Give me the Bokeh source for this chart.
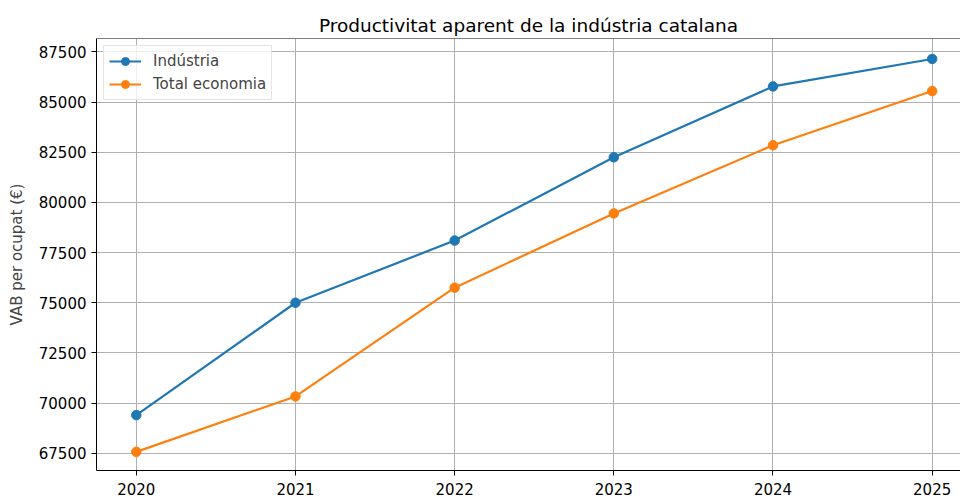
from bokeh.plotting import figure
from bokeh.models import FixedTicker, BasicTickFormatter, Span, Range1d, Legend, LegendItem
from bokeh.embed import file_html
from bokeh.resources import INLINE

years = [2020, 2021, 2022, 2023, 2024, 2025]
industria = [69400, 75000, 78100, 82250, 85780, 87150]
total_economia = [67570, 70330, 75750, 79450, 82850, 85550]
y_ticks = [67500, 70000, 72500, 75000, 77500, 80000, 82500, 85000, 87500]

FONT = "DejaVu Sans"
BLUE = "#1f77b4"
ORANGE = "#ff7f0e"
FS = "15px"

y0, y1 = 66640, 88170
p = figure(width=960, height=497, output_backend="svg", toolbar_location=None,
           x_range=Range1d(2019.75, 2025.178), y_range=Range1d(y0, y1),
           min_border_left=96, min_border_right=0, min_border_top=38, min_border_bottom=0,
           title="Productivitat aparent de la indústria catalana")

p.outline_line_color = None
p.background_fill_color = "white"
p.border_fill_color = "white"

p.title.align = "center"
p.title.offset = 5
p.title.standoff = 6
p.title.text_font = FONT
p.title.text_font_size = "18.5px"
p.title.text_font_style = "normal"
p.title.text_color = "black"

for ax in (p.xaxis[0], p.yaxis[0]):
    ax.axis_line_color = "black"
    ax.axis_line_width = 1
    ax.major_tick_line_color = "black"
    ax.major_tick_out = 5
    ax.major_tick_in = 0
    ax.minor_tick_line_color = None
    ax.major_label_text_font = FONT
    ax.major_label_text_font_size = FS
    ax.major_label_text_color = "black"

p.xaxis.ticker = FixedTicker(ticks=years)
p.xaxis.major_label_standoff = 7
p.yaxis.ticker = FixedTicker(ticks=y_ticks)
p.yaxis.formatter = BasicTickFormatter(use_scientific=False)
p.yaxis.major_label_standoff = 5
p.yaxis.axis_label = "VAB per ocupat (€)"
p.yaxis.axis_label_text_font = FONT
p.yaxis.axis_label_text_font_size = FS
p.yaxis.axis_label_text_font_style = "normal"
p.yaxis.axis_label_standoff = 10

for g in (p.xgrid[0], p.ygrid[0]):
    g.grid_line_color = "#b0b0b0"
    g.grid_line_width = 1
p.xgrid.ticker = FixedTicker(ticks=years)
p.ygrid.ticker = FixedTicker(ticks=y_ticks)

top_spine = Span(location=y1, dimension="width", line_color="black", line_width=1)
p.add_layout(top_spine)

l1 = p.line(years, industria, line_color=BLUE, line_width=2.2)
s1 = p.scatter(years, industria, size=9.5, fill_color=BLUE, line_color=BLUE)
l2 = p.line(years, total_economia, line_color=ORANGE, line_width=2.2)
s2 = p.scatter(years, total_economia, size=9.5, fill_color=ORANGE, line_color=ORANGE)

legend = Legend(items=[LegendItem(label="Indústria", renderers=[l1, s1]),
                       LegendItem(label="Total economia", renderers=[l2, s2])],
                location="top_left")
legend.margin = 7
legend.padding = 5
legend.spacing = 3
legend.glyph_width = 32
legend.glyph_height = 20
legend.label_height = 20
legend.label_standoff = 12
legend.label_text_font = FONT
legend.label_text_font_size = FS
legend.border_line_color = "#cccccc"
legend.border_line_width = 1
legend.background_fill_alpha = 0.8
p.add_layout(legend)

open("out.html", "w").write(file_html(p, INLINE))
